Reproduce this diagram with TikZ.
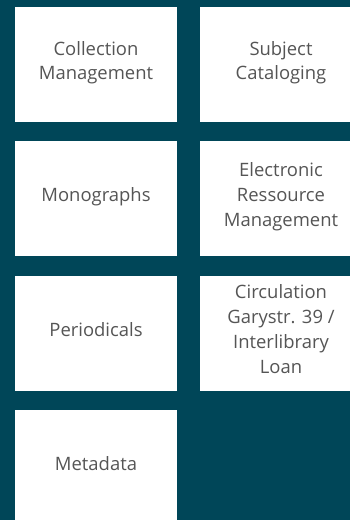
\documentclass[tikz,border=0pt]{standalone}
\usepackage{fontspec}
\setmainfont{Open Sans}
\usepackage{tikz}
\usetikzlibrary{positioning}
\definecolor{deepteal}{HTML}{004658}
\definecolor{labelgray}{HTML}{555555}
\tikzset{
  unitbox/.style={fill=white, minimum width=162bp, minimum height=115bp,
    inner sep=0pt, align=center, text=labelgray, font=\fontsize{18.5}{25}\selectfont,
    execute at end node={\rule[-8bp]{0pt}{0pt}}}
}

\begin{document}
\begin{tikzpicture}[x=1bp, y=-1bp]
    \useasboundingbox (0,0) rectangle (350,520);
    \clip (0,0) rectangle (350,520);
    \fill[deepteal] (0,0) rectangle (350,520);
    \node[unitbox] (collection) at (96,64.5) {Collection\\Management};
    \node[unitbox] (subject) at (281,64.5) {Subject\\Cataloging};
    \node[unitbox] (monographs) at (96,198.5) {Monographs};
    \node[unitbox] (eresource) at (281,198.5) {Electronic\\Ressource\\Management};
    \node[unitbox] (periodicals) at (96,333) {Periodicals};
    \node[unitbox] (circulation) at (281,333) {Circulation\\Garystr. 39 /\\Interlibrary\\Loan};
    \node[unitbox] (metadata) at (96,467.5) {Metadata};
  \end{tikzpicture}
\end{document}
